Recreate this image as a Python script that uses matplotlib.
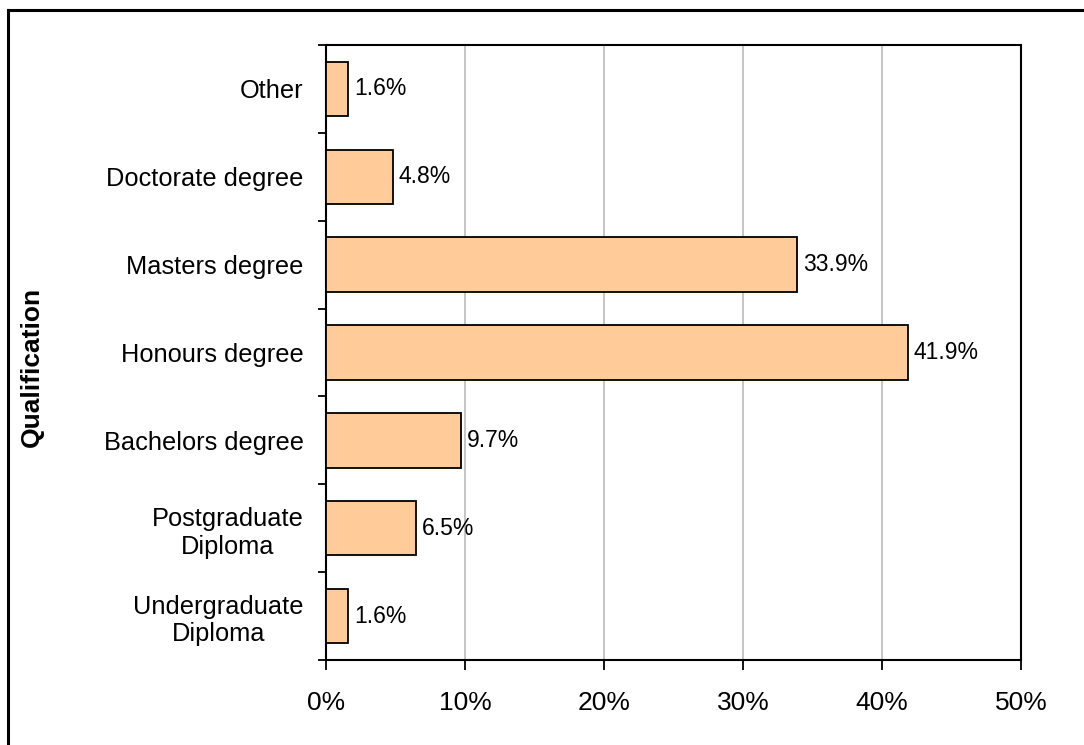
import matplotlib
matplotlib.use("Agg")
import matplotlib.pyplot as plt
from matplotlib.lines import Line2D
import numpy as np

categories = ["Undergraduate\nDiploma", "Postgraduate\nDiploma", "Bachelors degree",
              "Honours degree", "Masters degree", "Doctorate degree", "Other"]
values = [1.6, 6.5, 9.7, 41.9, 33.9, 4.8, 1.6]
x_ticks = [0, 10, 20, 30, 40, 50]
x_tick_labels = ["0%", "10%", "20%", "30%", "40%", "50%"]

plt.rcParams['font.family'] = ['Liberation Sans', 'DejaVu Sans']

W, H = 1084, 745
fig = plt.figure(figsize=(W / 100, H / 100), dpi=100)
ax = fig.add_axes([326 / W, 1 - 660 / H, (1021 - 326) / W, (660 - 45) / H])

y = np.arange(len(categories))
ax.barh(y, values, height=0.62, color="#FFCC99", edgecolor="black", linewidth=1.3, zorder=3)

for yi, v in zip(y, values):
    ax.annotate(f"{v:.1f}%", xy=(v, yi), xytext=(4, 0), textcoords="offset points",
                va="center", ha="left", fontsize=16.5)

ax.set_xlim(0, 50)
ax.set_ylim(-0.5, len(categories) - 0.5)
ax.set_xticks(x_ticks)
ax.set_xticklabels(x_tick_labels, fontsize=19)
ax.tick_params(axis="x", direction="out", length=7, width=1.3, pad=15)

ax.set_yticks(y)
ax.set_yticklabels(categories, fontsize=18.3, multialignment="center")
ax.tick_params(axis="y", which="major", length=0, pad=16)
ax.set_yticks(np.arange(-0.5, len(categories), 1), minor=True)
ax.tick_params(axis="y", which="minor", direction="out", length=6, width=1.3)

ax.grid(axis="x", color="#C0C0C0", linewidth=1.3, zorder=0)
for s in ax.spines.values():
    s.set_linewidth(1.5)
    s.set_color("black")

fig.text(32 / W, 1 - 367 / H, "Qualification", rotation=90, fontsize=19,
         fontweight="bold", ha="center", va="center")

# outer frame (top and left visible)
fig.add_artist(Line2D([7.5 / W, 7.5 / W], [0, 1 - 9.5 / H], transform=fig.transFigure,
                      color="black", linewidth=2.2))
fig.add_artist(Line2D([7.5 / W, 1], [1 - 9.5 / H, 1 - 9.5 / H], transform=fig.transFigure,
                      color="black", linewidth=2.2))

fig.savefig("out.png", dpi=100)
